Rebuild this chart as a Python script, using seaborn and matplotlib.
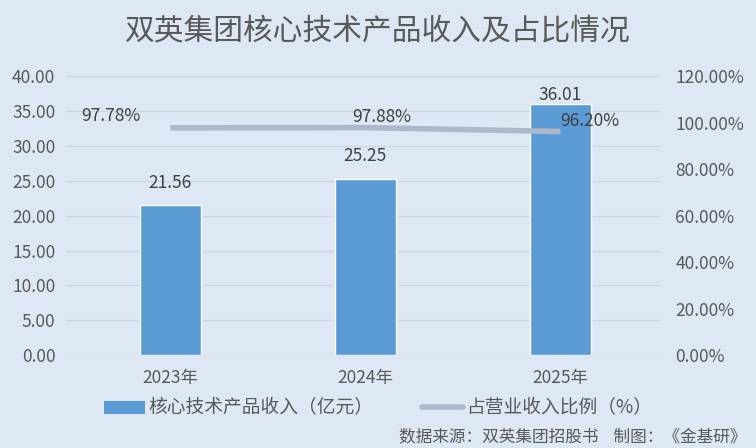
import pandas as pd
import seaborn as sns
import matplotlib.pyplot as plt
from matplotlib.patches import Patch
from matplotlib.lines import Line2D

years = ["2023年", "2024年", "2025年"]
revenue = [21.56, 25.25, 36.01]
ratio = [97.78, 97.88, 96.20]
ratio_labels = ["97.78%", "97.88%", "96.20%"]

BG = "#dde8f4"
BAR = "#5b9bd5"
LINE = "#adb9ca"
TXT = "#595959"

sns.set_theme(style="white")
plt.rcParams["font.family"] = ["Noto Sans CJK SC", "DejaVu Sans"]

df = pd.DataFrame({"year": years, "revenue": revenue, "ratio": ratio})

fig = plt.figure(figsize=(7.56, 4.48), dpi=100, facecolor=BG)
ax = fig.add_axes([0.086, 0.207, 0.787, 0.623])
ax.set_facecolor(BG)

sns.barplot(data=df, x="year", y="revenue", color=BAR, saturation=1,
            width=0.31, ax=ax, zorder=2)
ax.set_ylim(0, 40)
ax.set_yticks(range(0, 41, 5))
ax.set_yticklabels([f"{v:.2f}" for v in range(0, 41, 5)])
ax.set_xlim(-0.54, 2.51)
ax.grid(axis="y", color="#cdd6e2", linewidth=1, zorder=0)
ax.set_xlabel("")
ax.set_ylabel("")
for s in ax.spines.values():
    s.set_visible(False)
ax.tick_params(axis="both", length=0, colors=TXT, labelsize=12.5)
ax.tick_params(axis="x", pad=10)
ax.tick_params(axis="y", pad=7)

# bar value labels
bar_offsets = [9, 10, 0]
for i, v in enumerate(revenue):
    ax.annotate(f"{v:.2f}", (i, v), xytext=(0, bar_offsets[i]),
                textcoords="offset points", ha="center", va="bottom",
                fontsize=12.5, color="#404040")

ax2 = ax.twinx()
ax2.plot(range(len(ratio)), df["ratio"] / 100, color=LINE, linewidth=4,
         solid_capstyle="butt", zorder=3)
ax2.set_ylim(0, 1.2)
ax2.set_yticks([i * 0.2 for i in range(7)])
ax2.set_yticklabels([f"{i * 20:.2f}%" for i in range(7)])
for s in ax2.spines.values():
    s.set_visible(False)
ax2.tick_params(axis="y", length=0, colors=TXT, labelsize=12.5, pad=11)
ax2.grid(False)

ratio_offsets = [(-43, 2), (12, 1), (21, 1)]
for i, (v, lab) in enumerate(zip(ratio, ratio_labels)):
    ax2.annotate(lab, (i, v / 100), xytext=ratio_offsets[i],
                 textcoords="offset points", ha="center", va="bottom",
                 fontsize=12.5, color="#404040")

fig.text(0.5, 0.929, "双英集团核心技术产品收入及占比情况", ha="center",
         va="center", fontsize=21.4, color=TXT)

handles = [Patch(facecolor=BAR, edgecolor="none"),
           Line2D([0], [0], color=LINE, linewidth=4)]
fig.legend(handles, ["核心技术产品收入（亿元）", "占营业收入比例（%）"],
           loc="center", bbox_to_anchor=(0.5, 0.089), ncol=2, frameon=False,
           fontsize=13.5, labelcolor=TXT, handlelength=2.2, handleheight=0.7,
           handletextpad=0.15, columnspacing=2.6)

fig.text(0.987, 0.025, "数据来源：双英集团招股书    制图：《金基研》", ha="right",
         va="center", fontsize=12, color=TXT)

fig.savefig("out.png", dpi=100, facecolor=BG)
